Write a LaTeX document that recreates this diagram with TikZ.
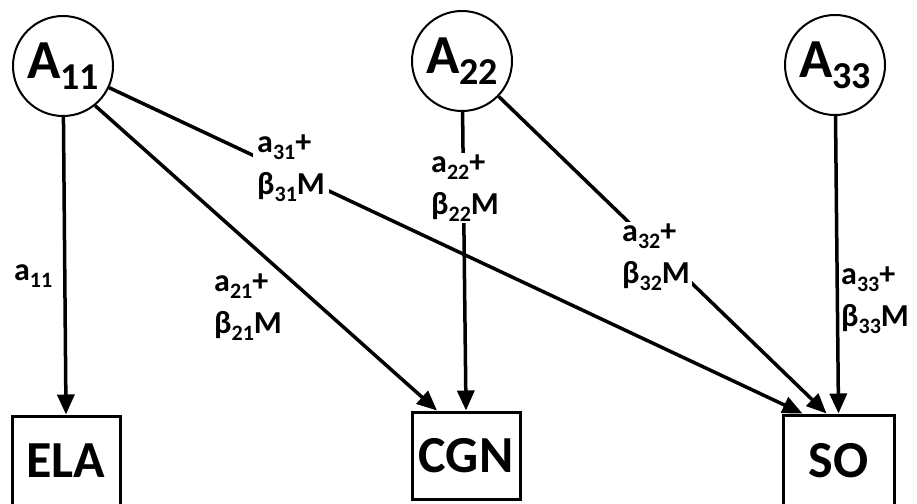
\documentclass[tikz,border=0pt]{standalone}
\usepackage{fontspec}
\setmainfont{Carlito}
\usetikzlibrary{arrows.meta}
\newcommand{\bsub}[1]{\raisebox{-11pt}{\fontsize{38}{38}\selectfont #1}}
\newcommand{\lsub}[1]{\raisebox{-7pt}{\fontsize{22}{22}\selectfont #1}}
\begin{document}
\begin{tikzpicture}[x=1pt,y=-1pt,
  latent/.style={circle,draw,line width=2pt,minimum size=100pt,inner sep=0pt,
    font=\fontsize{55}{55}\selectfont\bfseries},
  obs/.style={rectangle,draw,line width=3pt,inner sep=0pt,
    font=\fontsize{52}{52}\selectfont\bfseries},
  pathar/.style={line width=3.5pt,-{Triangle[length=20pt,width=17pt]}},
  lab/.style={fill=white,inner sep=2pt,align=left,
    font=\fontsize{32}{42}\selectfont\bfseries}]
\clip (0,0) rectangle (917,503);
\fill[white] (0,0) rectangle (917,503);
% latent nodes
\node[latent] (A11) at (63,66) {A\bsub{11}};
\node[latent] (A22) at (462,61) {A\bsub{22}};
\node[latent] (A33) at (835,65) {A\bsub{33}};
% observed nodes
\node[obs,minimum width=108pt,minimum height=90pt] (ELA) at (66,461) {ELA};
\node[obs,minimum width=108pt,minimum height=87pt] (CGN) at (466,455.5) {CGN};
\node[obs,minimum width=111pt,minimum height=91pt] (SO) at (838.5,460.5) {SO};
% paths
\draw[pathar] (A11) -- (ELA.north);
\draw[pathar] (A11.-51) -- ([xshift=-29pt]CGN.north);
\draw[pathar] (A11) -- ([xshift=-36pt]SO.north);
\draw[pathar] (A22) -- (CGN.north);
\draw[pathar] (A22) -- ([xshift=-12pt]SO.north);
\draw[pathar] (A33) -- (SO.north);
% labels
\node[lab,anchor=west,fill=none] (L11) at (12,276) {a\lsub{11}};
\node[lab,anchor=west,fill=none] (L21) at (212,307) {a\lsub{21}+\\β\lsub{21}M};
\node[lab,anchor=west,inner xsep=4pt] (L31) at (253,168) {a\lsub{31}+\\β\lsub{31}M};
\node[lab,anchor=west] (L22) at (429,188) {a\lsub{22}+\\β\lsub{22}M};
\node[lab,anchor=west] (L32) at (620,257) {a\lsub{32}+\\β\lsub{32}M};
\node[lab,anchor=west,fill=none] (L33) at (839,300) {a\lsub{33}+\\β\lsub{33}M};
\end{tikzpicture}
\end{document}
